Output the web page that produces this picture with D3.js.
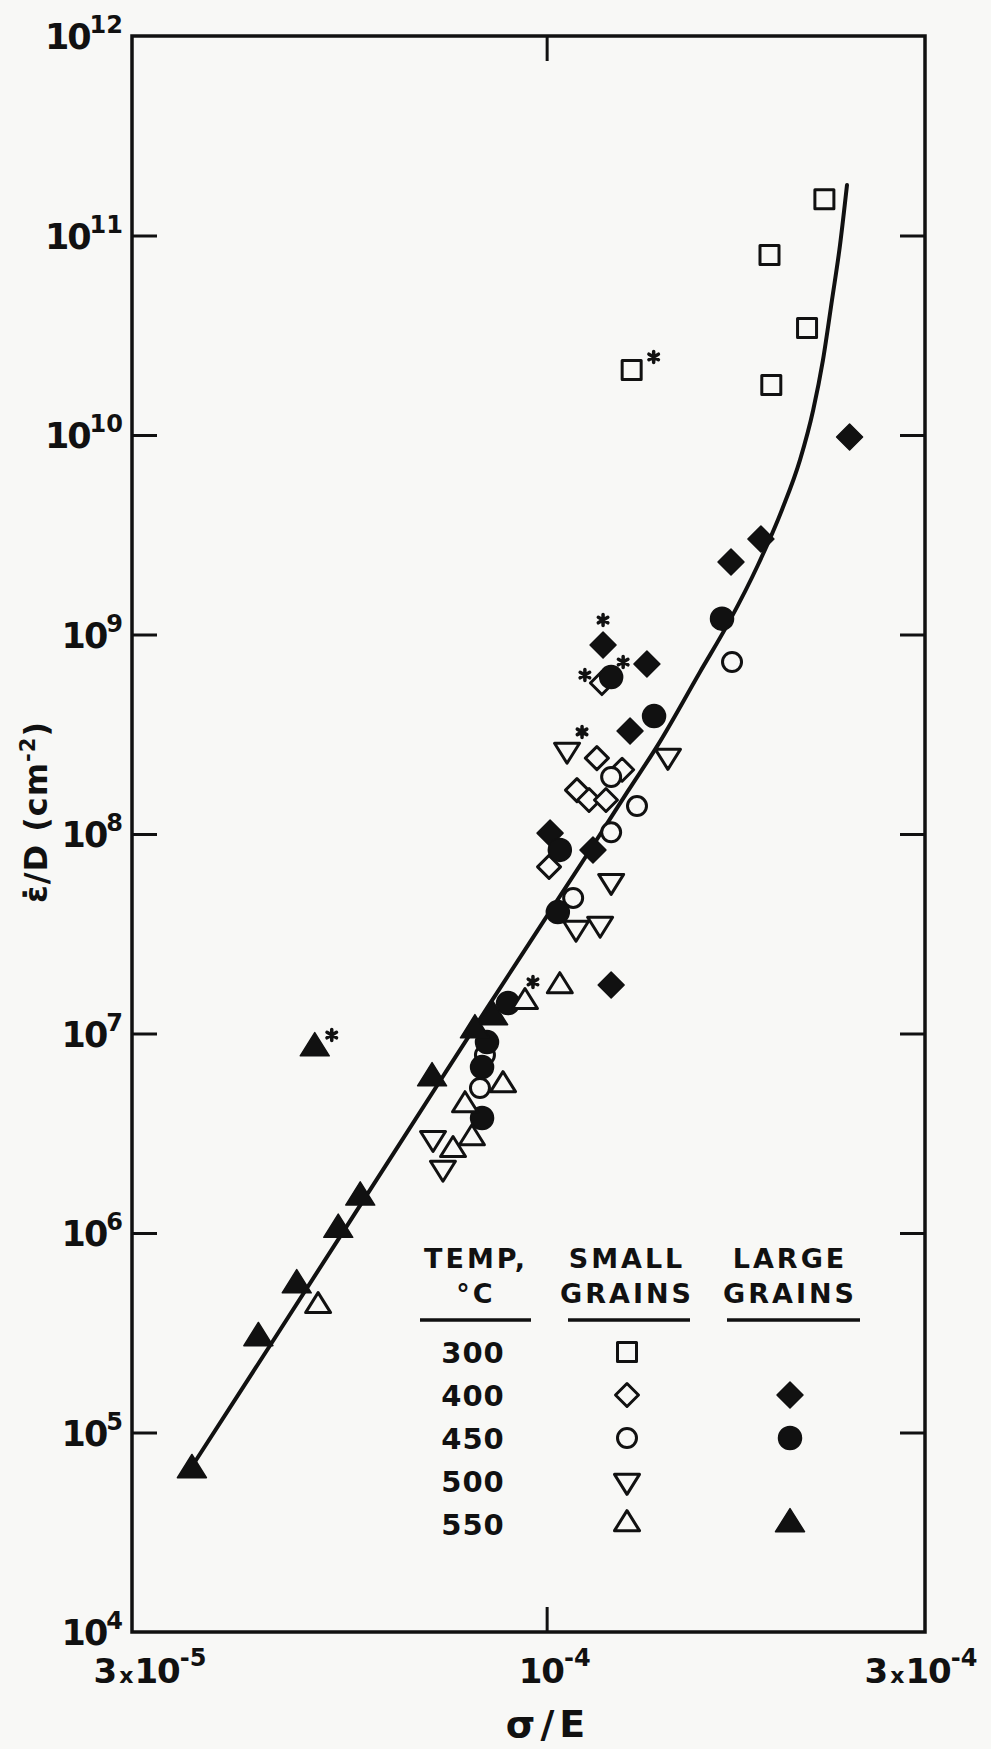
<!DOCTYPE html>
<html>
<head>
<meta charset="utf-8">
<script src="https://cdn.jsdelivr.net/npm/d3@7"></script>
<style>
  body { margin: 0; background: #f8f8f6; }
  svg { display: block; }
  text { font-family: "DejaVu Sans", sans-serif; font-weight: bold; fill: #111; }
</style>
</head>
<body>
<div id="vis"></div>
<script>
const FRAME_WIDTH = 991;
const FRAME_HEIGHT = 1749;
const PLOT = {left: 132, right: 925, top: 36, bottom: 1632};

// axis ticks
const Y_EXP = [4, 5, 6, 7, 8, 9, 10, 11, 12];
const X_TICKS = [3e-5, 1e-4, 3e-4];
const X_MANT = ["3", "", "3"];
const X_EXP = ["-5", "-4", "-4"];

// [sigma/E, rate/D, starred]
const s300 = [[2.24e-4, 1.52e11], [1.91e-4, 7.98e10], [2.13e-4, 3.44e10], [1.92e-4, 1.78e10],
              [1.28e-4, 2.12e10, 1]];
const s400 = [[1.174e-4, 5.71e8, 1], [1.157e-4, 2.40e8], [1.245e-4, 2.10e8], [1.092e-4, 1.66e8],
              [1.131e-4, 1.48e8], [1.188e-4, 1.48e8], [1.007e-4, 6.84e7]];
const l400 = [[2.41e-4, 9.77e9], [1.863e-4, 3.01e9], [1.708e-4, 2.31e9], [1.178e-4, 8.85e8, 1],
              [1.338e-4, 7.11e8], [1.274e-4, 3.28e8], [1.01e-4, 1.01e8], [1.144e-4, 8.32e7],
              [1.206e-4, 1.75e7]];
const s450 = [[1.713e-4, 7.28e8], [1.206e-4, 1.93e8], [1.30e-4, 1.38e8], [1.206e-4, 1.02e8],
              [1.08e-4, 4.78e7], [8.36e-5, 7.8e6], [8.24e-5, 5.33e6]];
const l450 = [[1.664e-4, 1.20e9], [1.206e-4, 6.12e8, 1], [1.366e-4, 3.90e8], [1.039e-4, 8.32e7],
              [1.033e-4, 4.06e7], [8.94e-5, 1.42e7], [8.41e-5, 9.06e6], [8.29e-5, 6.79e6],
              [8.29e-5, 3.77e6]];
const s500 = [[1.061e-4, 2.64e8, 1], [1.422e-4, 2.46e8], [1.206e-4, 5.81e7], [1.168e-4, 3.54e7],
              [1.089e-4, 3.38e7], [7.19e-5, 2.99e6], [7.40e-5, 2.12e6]];
const s550 = [[9.39e-5, 1.44e7, 1], [1.039e-4, 1.73e7], [8.81e-5, 5.52e6], [7.89e-5, 4.38e6],
              [8.05e-5, 2.99e6], [7.62e-5, 2.61e6], [5.15e-5, 4.31e5]];
const l550 = [[5.10e-5, 8.45e6, 1], [8.56e-5, 1.21e7], [8.12e-5, 1.04e7], [7.17e-5, 5.98e6],
              [5.82e-5, 1.51e6], [5.46e-5, 1.04e6], [4.84e-5, 5.48e5], [4.33e-5, 2.98e5],
              [3.57e-5, 6.49e4]];

// fitted curve
const CURVE_X = [3.58e-5, 4.50e-5, 5.90e-5, 7.31e-5, 8.43e-5, 1.007e-4, 1.141e-4, 1.266e-4, 1.381e-4,
                 1.561e-4, 1.703e-4, 1.847e-4, 1.980e-4, 2.087e-4, 2.168e-4, 2.231e-4, 2.290e-4,
                 2.344e-4, 2.392e-4];
const CURVE_Y = [6.87e4, 2.81e5, 1.50e6, 5.65e6, 1.36e7, 4.02e7, 8.61e7, 1.64e8, 2.79e8,
                 6.49e8, 1.18e9, 2.23e9, 4.21e9, 7.50e9, 1.33e10, 2.38e10, 4.75e10,
                 8.96e10, 1.79e11];

// legend
const LEG_TEMPS = ["300", "400", "450", "500", "550"];
const LEG_SMALL = ["s300", "s400", "s450", "s500", "s550"];
const LEG_LARGE = [null, "l400", "l450", null, "l550"];

// marker shapes (size = width)
const SQUARE = {draw(c, s) { c.rect(-s / 2, -s / 2, s, s); }};
const DIAMOND = {draw(c, s) {
  c.moveTo(0, -s / 2); c.lineTo(s / 2, 0); c.lineTo(0, s / 2); c.lineTo(-s / 2, 0); c.closePath();
}};
const CIRCLE = {draw(c, s) { c.moveTo(s / 2, 0); c.arc(0, 0, s / 2, 0, 2 * Math.PI); }};
const TRI_UP = {draw(c, s) {
  const h = s * 0.8;
  c.moveTo(0, -2 * h / 3); c.lineTo(s / 2, h / 3); c.lineTo(-s / 2, h / 3); c.closePath();
}};
const TRI_DOWN = {draw(c, s) {
  const h = s * 0.8;
  c.moveTo(0, 2 * h / 3); c.lineTo(s / 2, -h / 3); c.lineTo(-s / 2, -h / 3); c.closePath();
}};
const STAR = {draw(c, s) {
  for (let a = 90; a < 270; a += 60) {
    const r = a * Math.PI / 180;
    c.moveTo(Math.cos(r) * s / 2, Math.sin(r) * s / 2);
    c.lineTo(-Math.cos(r) * s / 2, -Math.sin(r) * s / 2);
  }
}};

const SERIES = {
  s300: {data: s300, type: SQUARE, size: 19, filled: false, star: [22, -13]},
  s400: {data: s400, type: DIAMOND, size: 23, filled: false, star: [-17, -8]},
  l400: {data: l400, type: DIAMOND, size: 26, filled: true, star: [0, -25]},
  s450: {data: s450, type: CIRCLE, size: 19, filled: false, star: [12, -15]},
  l450: {data: l450, type: CIRCLE, size: 23, filled: true, star: [12, -15]},
  s500: {data: s500, type: TRI_DOWN, size: 25, filled: false, star: [15, -18]},
  s550: {data: s550, type: TRI_UP, size: 25, filled: false, star: [8, -20]},
  l550: {data: l550, type: TRI_UP, size: 29, filled: true, star: [17, -13]}
};
const DRAW_ORDER = ["s300", "s400", "l400", "s450", "l450", "s500", "s550", "l550"];

const FRAME1 = d3.select("#vis")
                  .append("svg")
                    .attr("width", FRAME_WIDTH)
                    .attr("height", FRAME_HEIGHT);

const X_SCALE = d3.scaleLog().domain([3e-5, 3e-4]).range([PLOT.left, PLOT.right]);
const Y_SCALE = d3.scaleLog().domain([1e4, 1e12]).range([PLOT.bottom, PLOT.top]);

const yInner = Y_EXP.slice(1, -1).map(e => Math.pow(10, e));

// inward ticks on all four sides
function tickStyle(g) {
  g.select(".domain").remove();
  g.selectAll("line").attr("stroke", "#111").attr("stroke-width", 3);
}
FRAME1.append("g").attr("transform", "translate(" + PLOT.left + ",0)")
  .call(d3.axisLeft(Y_SCALE).tickValues(yInner).tickSize(-25).tickFormat(""))
  .call(tickStyle);
FRAME1.append("g").attr("transform", "translate(" + PLOT.right + ",0)")
  .call(d3.axisRight(Y_SCALE).tickValues(yInner).tickSize(-25).tickFormat(""))
  .call(tickStyle);
FRAME1.append("g").attr("transform", "translate(0," + PLOT.top + ")")
  .call(d3.axisTop(X_SCALE).tickValues([1e-4]).tickSize(-25).tickFormat(""))
  .call(tickStyle);
FRAME1.append("g").attr("transform", "translate(0," + PLOT.bottom + ")")
  .call(d3.axisBottom(X_SCALE).tickValues([1e-4]).tickSize(-25).tickFormat(""))
  .call(tickStyle);

// frame
FRAME1.append("rect")
  .attr("x", PLOT.left).attr("y", PLOT.top)
  .attr("width", PLOT.right - PLOT.left).attr("height", PLOT.bottom - PLOT.top)
  .attr("fill", "none").attr("stroke", "#111").attr("stroke-width", 3.5);

// y tick labels
const yLab = FRAME1.selectAll(".ylab")
  .data(Y_EXP)
  .enter()
  .append("text")
    .attr("class", "ylab")
    .attr("x", PLOT.left - 9)
    .attr("y", (d) => {return Y_SCALE(Math.pow(10, d)) + 13;})
    .attr("text-anchor", "end")
    .attr("font-size", 35)
    .attr("letter-spacing", -2);
yLab.append("tspan").text("10");
yLab.append("tspan").attr("dy", -16).attr("font-size", 24).attr("letter-spacing", 0)
  .text((d) => {return d;});

// x tick labels (small nudges to sit like the original lettering)
const X_NUDGE = [18, 6, -4];
const xLab = FRAME1.selectAll(".xlab")
  .data(X_TICKS)
  .enter()
  .append("text")
    .attr("class", "xlab")
    .attr("x", (d, i) => {return X_SCALE(d) + X_NUDGE[i];})
    .attr("y", PLOT.bottom + 51)
    .attr("text-anchor", "middle")
    .attr("font-size", 34)
    .attr("letter-spacing", -1);
xLab.append("tspan").text((d, i) => {return X_MANT[i];});
xLab.append("tspan").attr("font-size", 22).attr("dx", 3)
  .text((d, i) => {return X_MANT[i] ? "x" : "";});
xLab.append("tspan").attr("dx", 2).text("10");
xLab.append("tspan").attr("dy", -17).attr("font-size", 24).attr("letter-spacing", 0)
  .text((d, i) => {return X_EXP[i];});

// axis titles
FRAME1.append("text")
  .attr("x", 548).attr("y", 1737)
  .attr("text-anchor", "middle")
  .attr("font-size", 38)
  .attr("letter-spacing", 5)
  .text("σ/E");

const yTitle = FRAME1.append("text")
  .attr("transform", "translate(47,812) rotate(-90)")
  .attr("text-anchor", "middle")
  .attr("font-size", 32)
  .attr("letter-spacing", 1);
yTitle.append("tspan").text("ε\u0307/D (cm");
yTitle.append("tspan").attr("dy", -12).attr("font-size", 21).text("-2");
yTitle.append("tspan").attr("dy", 12).text(")");

// fitted curve
const curvePts = CURVE_X.map((x, i) => [x, CURVE_Y[i]]);
FRAME1.append("path")
  .datum(curvePts)
  .attr("d", d3.line()
    .x((d) => {return X_SCALE(d[0]);})
    .y((d) => {return Y_SCALE(d[1]);})
    .curve(d3.curveMonotoneX))
  .attr("fill", "none")
  .attr("stroke", "#111")
  .attr("stroke-width", 4)
  .attr("stroke-linecap", "round");

// markers
function drawMarker(sel, s) {
  sel.attr("d", d3.symbol(s.type, s.size))
    .attr("fill", s.filled ? "#111" : "#f8f8f6")
    .attr("stroke", "#111")
    .attr("stroke-width", s.filled ? 1.5 : 3)
    .attr("stroke-linejoin", "round");
}

DRAW_ORDER.forEach((key) => {
  const s = SERIES[key];
  FRAME1.selectAll(".pt-" + key)
    .data(s.data)
    .enter()
    .append("path")
      .attr("class", "pt-" + key)
      .attr("transform", (d) => {return "translate(" + X_SCALE(d[0]) + "," + Y_SCALE(d[1]) + ")";})
      .call(drawMarker, s);
  FRAME1.selectAll(".st-" + key)
    .data(s.data.filter((d) => {return d[2];}))
    .enter()
    .append("path")
      .attr("class", "st-" + key)
      .attr("transform", (d) => {
        return "translate(" + (X_SCALE(d[0]) + s.star[0]) + "," + (Y_SCALE(d[1]) + s.star[1]) + ")";
      })
      .attr("d", d3.symbol(STAR, 11))
      .attr("stroke", "#111")
      .attr("stroke-width", 3.5)
      .attr("stroke-linecap", "round");
});

// legend
const LEG = {temp: 476, small: 627, large: 790, row0: 1352, step: 43};
const heads = [
  {x: LEG.temp, l1: "TEMP,", l2: "°C", x1: 420, x2: 531},
  {x: LEG.small, l1: "SMALL", l2: "GRAINS", x1: 568, x2: 690},
  {x: LEG.large, l1: "LARGE", l2: "GRAINS", x1: 727, x2: 860}
];
heads.forEach((h) => {
  FRAME1.append("text").attr("x", h.x).attr("y", 1268).attr("text-anchor", "middle")
    .attr("font-size", 27).attr("letter-spacing", 3).text(h.l1);
  FRAME1.append("text").attr("x", h.x).attr("y", 1303).attr("text-anchor", "middle")
    .attr("font-size", 27).attr("letter-spacing", 3).text(h.l2);
  FRAME1.append("line").attr("x1", h.x1).attr("x2", h.x2).attr("y1", 1320).attr("y2", 1320)
    .attr("stroke", "#111").attr("stroke-width", 3.5);
});

LEG_TEMPS.forEach((t, i) => {
  const y = LEG.row0 + i * LEG.step;
  FRAME1.append("text").attr("x", LEG.temp - 3).attr("y", y + 11).attr("text-anchor", "middle")
    .attr("font-size", 29).attr("letter-spacing", 1).text(t);
  FRAME1.append("path").attr("transform", "translate(" + LEG.small + "," + y + ")")
    .call(drawMarker, SERIES[LEG_SMALL[i]]);
  if (LEG_LARGE[i]) {
    FRAME1.append("path").attr("transform", "translate(" + LEG.large + "," + y + ")")
      .call(drawMarker, SERIES[LEG_LARGE[i]]);
  }
});
</script>
</body>
</html>
